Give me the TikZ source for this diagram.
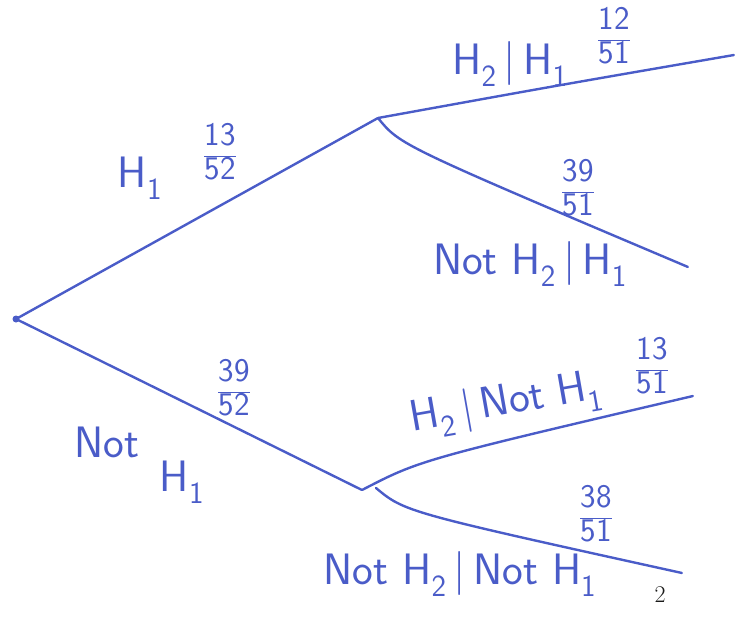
\documentclass[tikz,border=0pt]{standalone}
\definecolor{mPenBlue}{HTML}{4A5CC8}
\definecolor{mInk}{HTML}{1A1A19}
\usepackage{tikz}
\usetikzlibrary{positioning}
\newcommand{\pfrac}[2]{$\displaystyle\frac{\mbox{#1}}{\mbox{#2}}$}

\begin{document}
\begin{tikzpicture}[x=1pt, y=-1pt,
  branch/.style={draw=mPenBlue, line width=2.4pt, line cap=round},
  fork/.style={inner sep=0pt, minimum size=0pt},
  lbl/.style={text=mPenBlue, inner sep=0pt, font=\sffamily\fontsize{44}{48}\selectfont},
  prob/.style={text=mPenBlue, inner sep=0pt, font=\sffamily\fontsize{33}{36}\selectfont}]
\useasboundingbox (0,0) rectangle (736,618);
% forks and leaves
\node[fork] (root) at (16,319) {};
\node[fork] (n1) at (378,118) {};
\node[fork] (n2) at (362,490) {};
\node[fork] (l1) at (734,55) {};
\node[fork] (l2) at (688,267) {};
\node[fork] (l3) at (693,396) {};
\node[fork] (l4) at (682,573) {};
\fill[mPenBlue] (root) circle (3.5pt);
% branches
\draw[branch] (root) -- (n1);
\draw[branch] (root) -- (n2);
\draw[branch] (n1) .. controls (560,85) .. (l1);
\draw[branch] (n1) .. controls (400,145) .. (l2);
\draw[branch] (n2) .. controls (420,460) .. (l3);
\draw[branch] ([xshift=14pt,yshift=2pt]n2.center) .. controls (405,512) .. (l4);
% first stage labels
\node[lbl] (h1) at (140,178) {H\textsubscript{1}};
\node[prob] (p1) at (220,152) {\pfrac{13}{52}};
\node[prob] (p2) at (234,388) {\pfrac{39}{52}};
\node[lbl] (not1) at (107,442) {Not};
\node[lbl] (h1b) at (182,482) {H\textsubscript{1}};
% second stage labels
\node[lbl] (h2h1) at (510,64) {H\textsubscript{2}\,|\,H\textsubscript{1}};
\node[prob] (p3) at (614,36) {\pfrac{12}{51}};
\node[prob] (p4) at (578,188) {\pfrac{39}{51}};
\node[lbl] (nh2h1) at (530,264) {Not H\textsubscript{2}\,|\,H\textsubscript{1}};
\node[lbl, rotate=10] (h2nh1) at (506,404) {H\textsubscript{2}\,|\,Not H\textsubscript{1}};
\node[prob] (p5) at (652,366) {\pfrac{13}{51}};
\node[prob] (p6) at (596,514) {\pfrac{38}{51}};
\node[lbl] (nh2nh1) at (460,574) {Not H\textsubscript{2}\,|\,Not H\textsubscript{1}};
% page number
\node[text=mInk, inner sep=0pt, font=\fontsize{24}{26}\selectfont] (pg) at (660,595) {2};
\end{tikzpicture}
\end{document}
